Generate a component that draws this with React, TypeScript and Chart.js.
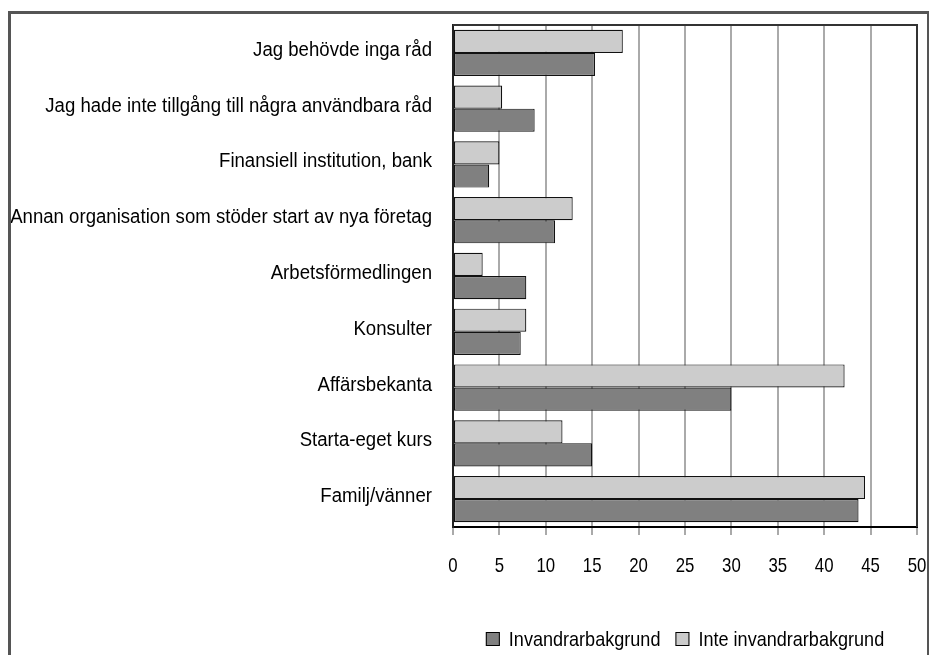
import React, { useEffect, useRef } from "react";
import { Chart, registerables } from "chart.js";

Chart.register(...registerables);

const categories = [
  "Jag behövde inga råd",
  "Jag hade inte tillgång till några användbara råd",
  "Finansiell institution, bank",
  "Annan organisation som stöder start av nya företag",
  "Arbetsförmedlingen",
  "Konsulter",
  "Affärsbekanta",
  "Starta-eget kurs",
  "Familj/vänner",
];

const seriesNames = ["Invandrarbakgrund", "Inte invandrarbakgrund"];

const invandrar = [15.3, 8.8, 3.9, 11.0, 7.9, 7.3, 30.0, 15.0, 43.7];
const inteInvandrar = [18.3, 5.3, 5.0, 12.9, 3.2, 7.9, 42.2, 11.8, 44.4];

const xTicks = [0, 5, 10, 15, 20, 25, 30, 35, 40, 45, 50];

const FONT = "'Liberation Sans', Arial, sans-serif";

function drawText(
  ctx: CanvasRenderingContext2D,
  text: string,
  x: number,
  y: number,
  align: CanvasTextAlign,
  size: number,
  sx: number
) {
  ctx.save();
  ctx.translate(x, y);
  ctx.scale(sx, 1);
  ctx.font = `${size}px ${FONT}`;
  ctx.textAlign = align;
  ctx.textBaseline = "alphabetic";
  ctx.fillStyle = "#000";
  ctx.fillText(text, 0, 0);
  ctx.restore();
}

const framePlugin = {
  id: "frameLines",
  afterDatasetsDraw(chart: any) {
    const { ctx, chartArea } = chart;
    ctx.save();
    ctx.strokeStyle = "#333";
    ctx.lineWidth = 2;
    ctx.beginPath();
    ctx.moveTo(chartArea.left, chartArea.top);
    ctx.lineTo(chartArea.right, chartArea.top);
    ctx.lineTo(chartArea.right, chartArea.bottom);
    ctx.stroke();
    ctx.restore();
  },
};

const axisTextPlugin = {
  id: "axisText",
  afterDraw(chart: any) {
    const { ctx } = chart;
    const x = chart.scales.x;
    const y = chart.scales.y;
    (chart.data.labels as string[]).forEach((lab, i) => {
      const py = y.getPixelForValue(i);
      drawText(ctx, lab, y.right - 21, py + 3, "right", 20, 0.93);
    });
    x.ticks.forEach((t: any) => {
      const px = x.getPixelForValue(t.value);
      drawText(ctx, String(t.value), px, x.top + 45, "center", 21, 0.8);
    });
  },
};

const legendPlugin = {
  id: "centeredLegend",
  afterDraw(chart: any) {
    const { ctx, chartArea } = chart;
    const order = [1, 0];
    const box = 14;
    const gapBoxText = 9;
    const gapItems = 15;
    const size = 21;
    const sx = 0.86;
    ctx.save();
    ctx.font = `${size}px ${FONT}`;
    const items = order.map((i) => {
      const ds = chart.data.datasets[i];
      return {
        text: ds.label as string,
        fill: ds.backgroundColor as string,
        w: ctx.measureText(ds.label).width * sx,
      };
    });
    ctx.restore();
    const total =
      items.reduce((s, it) => s + box + gapBoxText + it.w, 0) + gapItems * (items.length - 1);
    let x = (chartArea.left + chartArea.right) / 2 - total / 2;
    const baseline = chart.height - 9;
    items.forEach((it) => {
      ctx.save();
      ctx.fillStyle = it.fill;
      ctx.fillRect(x, baseline - box, box, box);
      ctx.strokeStyle = "#000";
      ctx.lineWidth = 1;
      ctx.strokeRect(x + 0.5, baseline - box + 0.5, box - 1, box - 1);
      ctx.restore();
      drawText(ctx, it.text, x + box + gapBoxText, baseline, "left", size, sx);
      x += box + gapBoxText + it.w + gapItems;
    });
  },
};

export default function App() {
  const canvasRef = useRef<HTMLCanvasElement | null>(null);

  useEffect(() => {
    if (!canvasRef.current) return;
    const chart = new Chart(canvasRef.current, {
      type: "bar",
      data: {
        labels: categories,
        datasets: [
          {
            label: seriesNames[1],
            data: inteInvandrar,
            backgroundColor: "#cccccc",
            borderColor: "#111",
            borderWidth: 1.2,
            borderSkipped: false,
            categoryPercentage: 0.83,
            barPercentage: 1,
          },
          {
            label: seriesNames[0],
            data: invandrar,
            backgroundColor: "#808080",
            borderColor: "#111",
            borderWidth: 1.2,
            borderSkipped: false,
            categoryPercentage: 0.83,
            barPercentage: 1,
          },
        ],
      },
      options: {
        indexAxis: "y",
        animation: false,
        responsive: false,
        maintainAspectRatio: false,
        layout: { padding: { top: 11, right: 9, left: 0, bottom: 0 } },
        plugins: {
          legend: { display: false },
          tooltip: { enabled: false },
        },
        scales: {
          x: {
            min: 0,
            max: 50,
            afterBuildTicks: (scale: any) => {
              scale.ticks = xTicks.map((v) => ({ value: v }));
            },
            afterFit: (scale: any) => {
              scale.height = 128;
            },
            grid: {
              color: "#aaaaaa",
              lineWidth: 2,
              tickLength: 8,
              tickColor: "#aaaaaa",
            },
            border: { display: true, color: "#000", width: 2 },
            ticks: { display: false },
          },
          y: {
            afterFit: (scale: any) => {
              scale.width = 442;
            },
            grid: { display: false, drawTicks: false },
            border: { display: true, color: "#222", width: 2 },
            ticks: { display: false, autoSkip: false },
          },
        },
      },
      plugins: [framePlugin, axisTextPlugin, legendPlugin],
    });
    return () => chart.destroy();
  }, []);

  return (
    <div
      style={{
        position: "absolute",
        left: 0,
        top: 0,
        width: 929,
        height: 655,
        overflow: "hidden",
        background: "#fff",
      }}
    >
      <div
        style={{
          position: "absolute",
          left: 8,
          top: 11,
          width: 922,
          height: 670,
          boxSizing: "border-box",
          border: "3px solid #555",
          borderBottom: "none",
        }}
      >
        <canvas
          ref={canvasRef}
          width={915}
          height={641}
          style={{ display: "block", width: 915, height: 641 }}
        />
      </div>
    </div>
  );
}
